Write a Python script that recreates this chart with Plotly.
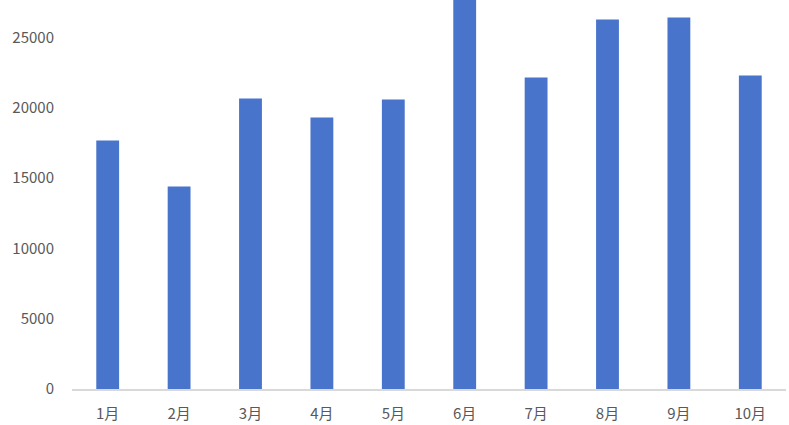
import plotly.graph_objects as go

months = ["1月", "2月", "3月", "4月", "5月", "6月", "7月", "8月", "9月", "10月"]
values = [17680, 14400, 20660, 19310, 20590, 28300, 22160, 26280, 26420, 22300]
y_ticks = [0, 5000, 10000, 15000, 20000, 25000]

fig = go.Figure(go.Bar(x=months, y=values, marker=dict(color="#4874CB", line=dict(width=0))))

font = dict(family="Noto Sans CJK SC, Noto Sans, sans-serif", size=15, color="#595959")
fig.update_layout(
    width=789, height=425,
    margin=dict(l=72, r=3, t=0, b=36),
    plot_bgcolor="white", paper_bgcolor="white",
    bargap=0.68, showlegend=False, font=font,
)
fig.update_xaxes(showline=True, linecolor="#d9d9d9", linewidth=1.5, showgrid=False,
                 ticks="", tickfont=font, ticklabelstandoff=10)
fig.update_yaxes(range=[0, 27670], tickvals=y_ticks, tickformat="d", showgrid=False, zeroline=False,
                 showline=False, ticks="", tickfont=font, ticklabelstandoff=17)
fig.write_html("out.html", config={"displayModeBar": False},
               post_script="document.body.style.margin='0';")
